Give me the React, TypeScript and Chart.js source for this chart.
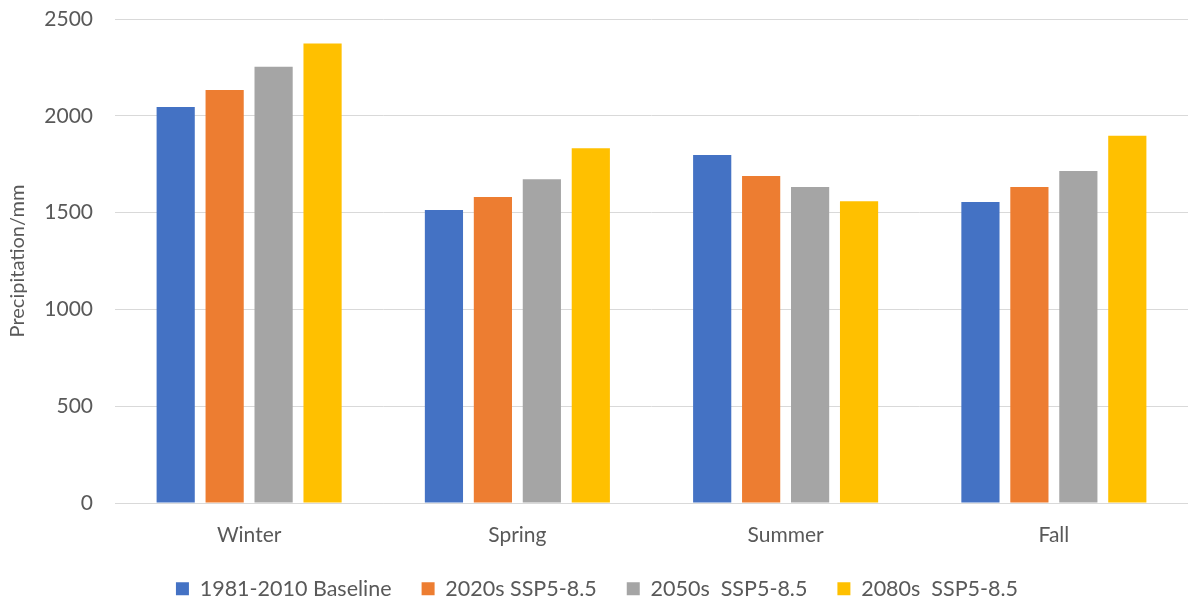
import React, { useEffect, useRef } from "react";
import { Chart, registerables } from "chart.js";

Chart.register(...registerables);

const categories = ["Winter", "Spring", "Summer", "Fall"];
const baseline1981 = [2045, 1513, 1797, 1555];
const ssp2020s = [2133, 1580, 1689, 1632];
const ssp2050s = [2254, 1672, 1632, 1715];
const ssp2080s = [2374, 1832, 1558, 1897];
const seriesLabels = ["1981-2010 Baseline", "2020s SSP5-8.5", "2050s  SSP5-8.5", "2080s  SSP5-8.5"];
const seriesColors = ["#4472C4", "#ED7D31", "#A5A5A5", "#FFC000"];
const yTicks = [0, 500, 1000, 1500, 2000, 2500];

const FONT = "Lato, 'Open Sans', sans-serif";

const legendHeightPlugin = {
  id: "legendHeight",
  beforeUpdate(chart: any) {
    const lg = chart.legend;
    if (lg && !lg.__patched) {
      const orig = lg.fit.bind(lg);
      lg.fit = () => {
        orig();
        lg.height = 53;
      };
      lg.__patched = true;
    }
  },
};

export default function App() {
  const ref = useRef<HTMLCanvasElement>(null);
  useEffect(() => {
    document.body.style.margin = "0";
    const values = [baseline1981, ssp2020s, ssp2050s, ssp2080s];
    const chart = new Chart(ref.current!, {
      type: "bar",
      data: {
        labels: categories,
        datasets: values.map((v, i) => ({
          label: seriesLabels[i],
          data: v,
          backgroundColor: seriesColors[i],
          categoryPercentage: 0.73,
          barPercentage: 0.78,
        })),
      },
      plugins: [legendHeightPlugin],
      options: {
        animation: false,
        responsive: false,
        layout: { padding: { top: 19, right: 0, left: 6, bottom: 0 } },
        plugins: {
          tooltip: { enabled: false },
          legend: {
            position: "bottom",
            labels: {
              boxWidth: 13,
              boxHeight: 13,
              padding: 30,
              color: "#595959",
              font: { size: 21.5, family: FONT },
            },
          },
        },
        scales: {
          x: {
            grid: { display: false, drawTicks: false },
            border: { color: "#d9d9d9", width: 1 },
            ticks: { color: "#595959", font: { size: 21, family: FONT }, padding: 20 },
            afterFit: (s: any) => {
              s.height = 45;
              s.paddingBottom = 0;
            },
          },
          y: {
            min: 0,
            max: 2500,
            afterBuildTicks: (s: any) => {
              s.ticks = yTicks.map((v) => ({ value: v }));
            },
            afterFit: (s: any) => {
              s.width = 109;
              s.paddingTop = 0;
              s.paddingBottom = 0;
            },
            grid: { color: "#d9d9d9", lineWidth: 1, drawTicks: false },
            border: { display: false },
            ticks: {
              color: "#595959",
              font: { size: 21, family: FONT },
              padding: 22,
              callback: (v: any) => String(v),
            },
            title: {
              display: true,
              text: "Precipitation/mm",
              color: "#595959",
              font: { size: 20, family: FONT },
              padding: 0,
            },
          },
        },
      },
    });
    return () => chart.destroy();
  }, []);
  return <canvas ref={ref} width={1188} height={601} style={{ display: "block" }} />;
}
